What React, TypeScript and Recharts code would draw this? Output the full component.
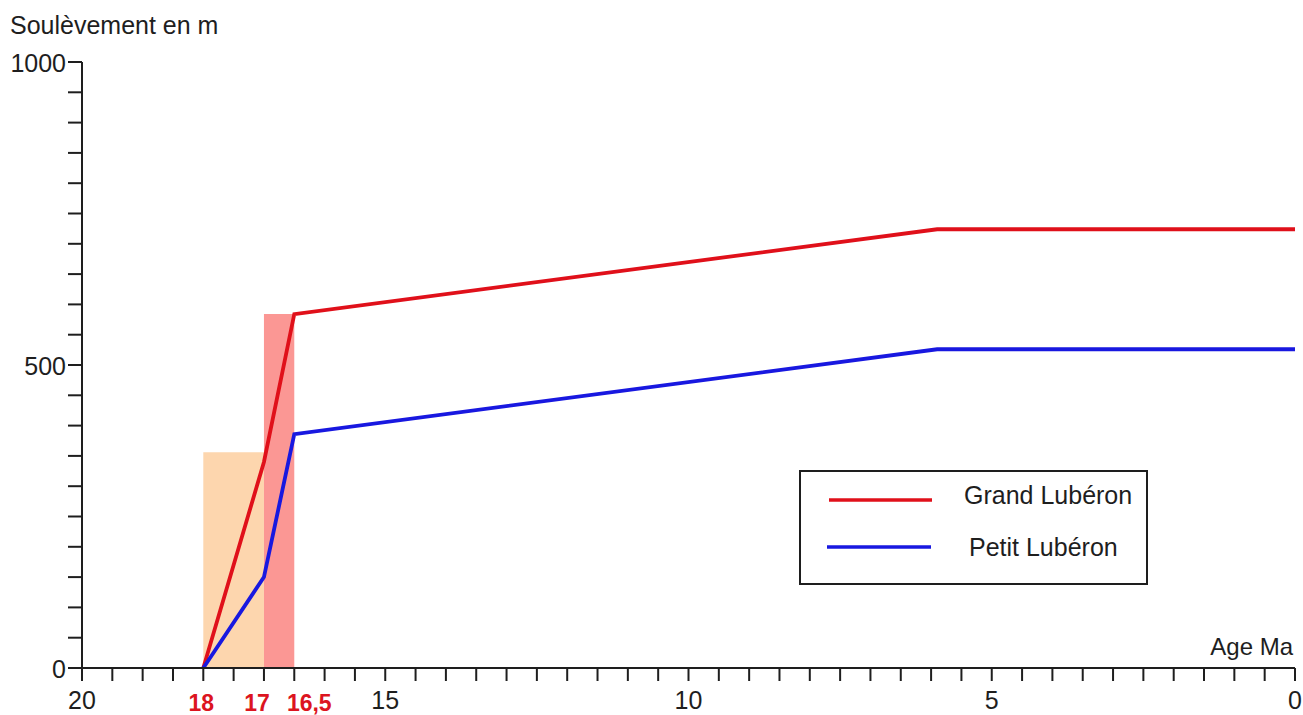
import React from 'react';
import { ComposedChart, Line, XAxis, YAxis, ReferenceArea, Legend, Label } from 'recharts';

const seriesNames = ['Grand Lubéron', 'Petit Lubéron'];
const seriesColors = ['#e0101a', '#1818e0'];

const grandAges = [18, 17, 16.5, 5.9, 0];
const grandUplift = [0, 340, 584, 724, 724];
const petitAges = [18, 17, 16.5, 5.9, 0];
const petitUplift = [0, 150, 386, 526, 526];

const bandStart = [18, 17];
const bandEnd = [17, 16.5];
const bandTop = [356, 584];
const bandColors = ['#fdd6ae', '#fb9794'];

const xTicks = [
  0, 0.5, 1, 1.5, 2, 2.5, 3, 3.5, 4, 4.5, 5, 5.5, 6, 6.5, 7, 7.5, 8, 8.5, 9, 9.5, 10,
  10.5, 11, 11.5, 12, 12.5, 13, 13.5, 14, 14.5, 15, 15.5, 16, 16.5, 17, 17.5, 18, 18.5, 19, 19.5, 20,
];
const xLabelValues = [20, 15, 10, 5, 0];
const xLabelTexts = ['20', '15', '10', '5', '0'];
const xHighlightValues = [18, 17, 16.5];
const xHighlightTexts = ['18', '17', '16,5'];
const xHighlightShift = [-2, -7, 15];

const yTicks = [0, 50, 100, 150, 200, 250, 300, 350, 400, 450, 500, 550, 600, 650, 700, 750, 800, 850, 900, 950, 1000];
const yLabelValues = [0, 500, 1000];
const yLabelTexts = ['0', '500', '1000'];

const yTitle = 'Soulèvement en m';
const xTitle = 'Age Ma';

const FONT = '"Liberation Sans", Arial, sans-serif';
const INK = '#1e1e1e';
const HIGHLIGHT = '#dc1420';

const grandData = grandAges.map((x, i) => ({ x, y: grandUplift[i] }));
const petitData = petitAges.map((x, i) => ({ x, y: petitUplift[i] }));

const XTick = (props: any) => {
  const { x, y, payload } = props;
  const v = payload.value;
  const li = xLabelValues.indexOf(v);
  if (li >= 0) {
    return (
      <text x={x} y={y} dy={26} textAnchor="middle" fontSize={25} fontFamily={FONT} fill={INK}>
        {xLabelTexts[li]}
      </text>
    );
  }
  const hi = xHighlightValues.indexOf(v);
  if (hi >= 0) {
    return (
      <text x={x + xHighlightShift[hi]} y={y} dy={28} textAnchor="middle" fontSize={23} fontWeight="bold" fontFamily={FONT} fill={HIGHLIGHT}>
        {xHighlightTexts[hi]}
      </text>
    );
  }
  return <g />;
};

const YTick = (props: any) => {
  const { x, y, payload } = props;
  const li = yLabelValues.indexOf(payload.value);
  if (li < 0) return <g />;
  return (
    <text x={x + 1} y={y} dy={10} textAnchor="end" fontSize={25} fontFamily={FONT} fill={INK}>
      {yLabelTexts[li]}
    </text>
  );
};

const LegendBox = () => (
  <svg width={350} height={116} style={{ display: 'block' }}>
    <rect x={1} y={1} width={347} height={113} fill="#fff" stroke={INK} strokeWidth={2} />
    <line x1={30} x2={133} y1={30} y2={30} stroke={seriesColors[0]} strokeWidth={3.5} />
    <line x1={28} x2={132} y1={77} y2={77} stroke={seriesColors[1]} strokeWidth={3.5} />
    <text x={165} y={34} fontSize={25} fontFamily={FONT} fill={INK}>{seriesNames[0]}</text>
    <text x={170} y={86} fontSize={25} fontFamily={FONT} fill={INK}>{seriesNames[1]}</text>
  </svg>
);

export default function App() {
  return (
    <div style={{ position: 'absolute', left: 0, top: 0, width: 1303, height: 715, background: '#fff' }}>
      <ComposedChart width={1303} height={715} margin={{ top: 62, right: 8, left: 0, bottom: 0 }}>
        <XAxis
          type="number"
          dataKey="x"
          domain={[0, 20]}
          reversed
          ticks={xTicks}
          interval={0}
          allowDataOverflow
          height={47}
          tickSize={13}
          tickMargin={2}
          axisLine={{ stroke: INK, strokeWidth: 2 }}
          tickLine={{ stroke: INK, strokeWidth: 2 }}
          tick={<XTick />}
        >
          <Label
            content={(p: any) => {
              const vb = p.viewBox || { x: 82, y: 668, width: 1213 };
              return (
                <text x={vb.x + vb.width - 2} y={vb.y - 13} textAnchor="end" fontSize={24} fontFamily={FONT} fill={INK}>
                  {xTitle}
                </text>
              );
            }}
          />
        </XAxis>
        <YAxis
          type="number"
          domain={[0, 1000]}
          ticks={yTicks}
          interval={0}
          allowDataOverflow
          width={82}
          tickSize={14}
          tickMargin={3}
          axisLine={{ stroke: INK, strokeWidth: 2 }}
          tickLine={{ stroke: INK, strokeWidth: 2 }}
          tick={<YTick />}
        >
          <Label
            content={(p: any) => {
              const vb = p.viewBox || { x: 0, y: 62 };
              return (
                <text x={10} y={vb.y - 28} fontSize={25} fontFamily={FONT} fill={INK}>
                  {yTitle}
                </text>
              );
            }}
          />
        </YAxis>
        {bandStart.map((s, i) => (
          <ReferenceArea
            key={i}
            x1={s}
            x2={bandEnd[i]}
            y1={0}
            y2={bandTop[i]}
            fill={bandColors[i]}
            fillOpacity={1}
            stroke="none"
            ifOverflow="hidden"
          />
        ))}
        <Line
          data={grandData}
          dataKey="y"
          name={seriesNames[0]}
          type="linear"
          stroke={seriesColors[0]}
          strokeWidth={3.8}
          dot={false}
          activeDot={false}
          isAnimationActive={false}
        />
        <Line
          data={petitData}
          dataKey="y"
          name={seriesNames[1]}
          type="linear"
          stroke={seriesColors[1]}
          strokeWidth={3.8}
          dot={false}
          activeDot={false}
          isAnimationActive={false}
        />
        <Legend
          layout="horizontal"
          verticalAlign="middle"
          align="center"
          content={<LegendBox />}
          wrapperStyle={{ position: 'absolute', left: 799, top: 470, width: 350, height: 116 }}
        />
      </ComposedChart>
    </div>
  );
}
